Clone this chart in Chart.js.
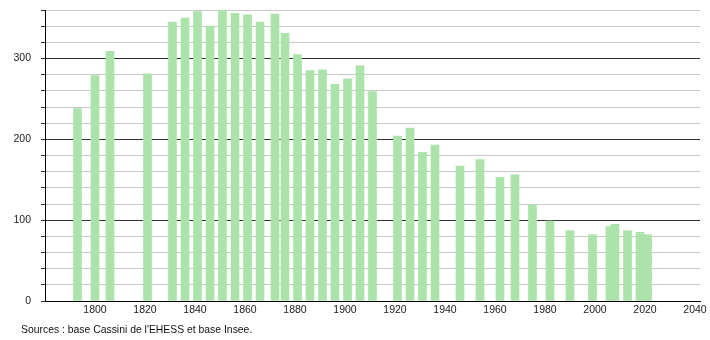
<!DOCTYPE html>
<html>
<head>
<meta charset="utf-8">
<script src="https://cdn.jsdelivr.net/npm/chart.js@4/dist/chart.umd.min.js"></script>
<style>
    html, body { margin: 0; padding: 0; background: #fff; }
    #wrap { width: 710px; height: 340px; position: relative; }
</style>
</head>
<body>
<div id="wrap"><canvas id="chart" width="710" height="340"></canvas></div>
<script>
// census years and population
const years = [1793, 1800, 1806, 1821, 1831, 1836, 1841, 1846, 1851, 1856,
    1861, 1866, 1872, 1876, 1881, 1886, 1891, 1896, 1901, 1906,
    1911, 1921, 1926, 1931, 1936, 1946, 1954, 1962, 1968, 1975,
    1982, 1990, 1999, 2006, 2008, 2013, 2018, 2021];
const population = [238, 279, 309, 281, 345, 350, 358, 340, 360, 356,
    354, 345, 355, 331, 305, 285, 286, 268, 275, 291,
    259, 204, 214, 184, 193, 167, 175, 153, 156, 119,
    99, 87, 82, 92, 95, 87, 85, 82];
const xTicks = [1800, 1820, 1840, 1860, 1880, 1900, 1920, 1940, 1960, 1980, 2000, 2020, 2040];
const yTicks = [0, 20, 40, 60, 80, 100, 120, 140, 160, 180, 200, 220, 240, 260, 280, 300, 320, 340, 360];
const yLabels = [0, 100, 200, 300];
const sourceText = "Sources : base Cassini de l'EHESS et base Insee.";

const FONT = 'Liberation Sans, Arial, sans-serif';

const sourcePlugin = {
    id: 'source',
    afterDraw(chart) {
        const ctx = chart.ctx;
        ctx.save();
        ctx.font = '10.4px ' + FONT;
        ctx.fillStyle = '#111';
        ctx.textBaseline = 'middle';
        ctx.textAlign = 'left';
        ctx.fillText(sourceText, 21, 330);
        ctx.restore();
    },
};

new Chart(document.getElementById('chart'), {
    type: 'bar',
    data: {
        datasets: [{
            data: years.map((y, i) => ({ x: y, y: population[i] })),
            backgroundColor: '#abe3ab',
            borderWidth: 0,
            barThickness: 8,
        }],
    },
    options: {
        responsive: false,
        animation: false,
        layout: { padding: { top: 10, right: 10, left: 0, bottom: 0 } },
        plugins: {
            legend: { display: false },
            tooltip: { enabled: false },
        },
        scales: {
            x: {
                type: 'linear',
                offset: false,
                min: 1780,
                max: 2042,
                afterBuildTicks: (s) => { s.ticks = xTicks.map(v => ({ value: v })); },
                afterFit: (s) => { s.height = 39; s.paddingLeft = 0; s.paddingRight = 0; },
                grid: { display: false, drawTicks: false, offset: false },
                border: { display: true, color: '#000', width: 1 },
                ticks: {
                    autoSkip: false,
                    maxRotation: 0,
                    padding: 3,
                    color: '#222',
                    font: { size: 10.5, family: FONT },
                    callback: (v) => String(v),
                },
            },
            y: {
                min: 0,
                max: 360,
                afterBuildTicks: (s) => { s.ticks = yTicks.map(v => ({ value: v })); },
                afterFit: (s) => { s.width = 45; s.paddingTop = 0; s.paddingBottom = 0; },
                grid: {
                    color: (c) => (c.tick && c.tick.value % 100 === 0 ? '#333' : '#c8c8c8'),
                    tickColor: '#333',
                    tickLength: 4,
                    lineWidth: 1,
                },
                border: { display: true, color: '#000', width: 1 },
                ticks: {
                    autoSkip: false,
                    padding: 10,
                    color: '#222',
                    font: { size: 10.5, family: FONT },
                    callback: (v) => (yLabels.includes(v) ? String(v) : ''),
                },
            },
        },
    },
    plugins: [sourcePlugin],
});
</script>
</body>
</html>
